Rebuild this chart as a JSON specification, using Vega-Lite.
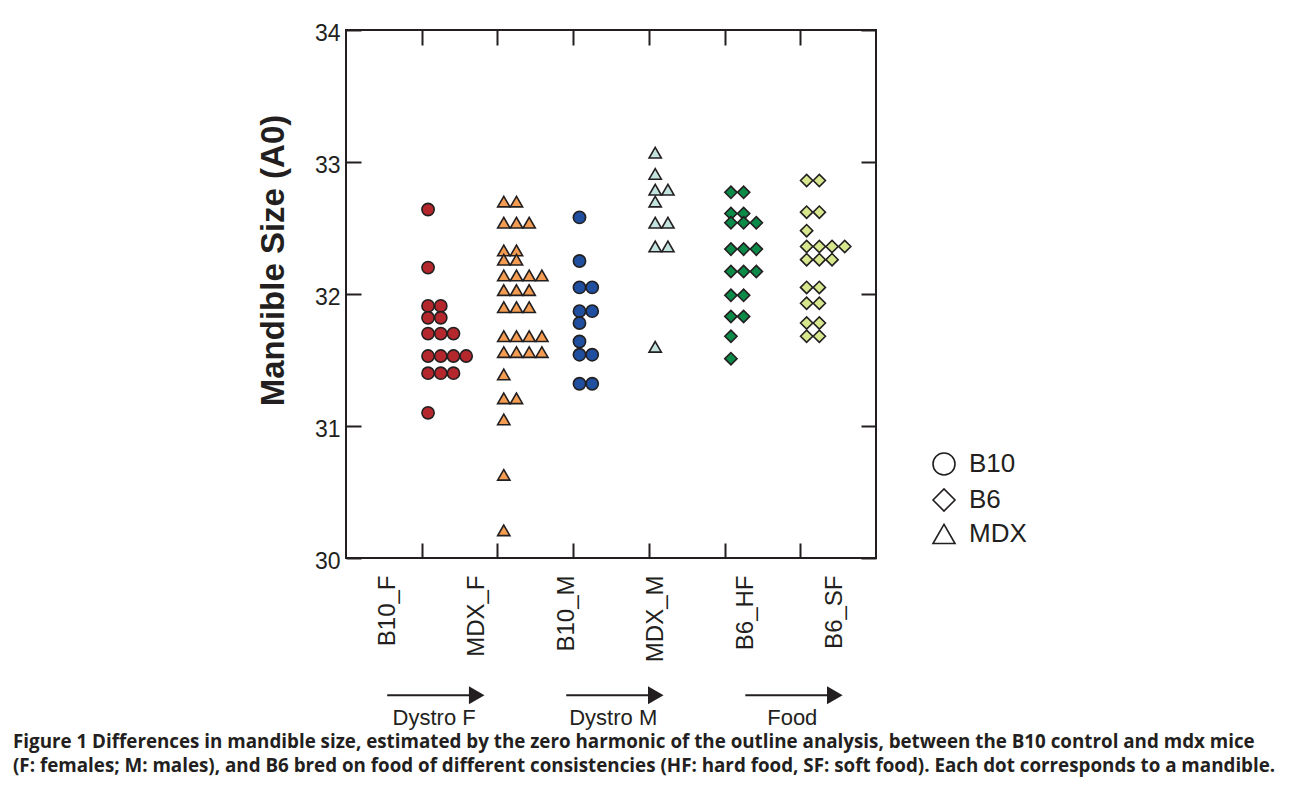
{
  "$schema": "https://vega.github.io/schema/vega-lite/v6.json",
  "autosize": "none",
  "width": 530,
  "height": 528,
  "padding": {"left": 346, "top": 30, "right": 414, "bottom": 234},
  "background": "white",
  "config": {
    "view": {"stroke": "#231f20", "strokeWidth": 2},
    "font": "Liberation Sans"
  },
  "title": {
    "text": [
      "Figure 1 Differences in mandible size, estimated by the zero harmonic of the outline analysis, between the B10 control and mdx mice",
      "(F: females; M: males), and B6 bred on food of different consistencies (HF: hard food, SF: soft food). Each dot corresponds to a mandible."
    ],
    "orient": "bottom",
    "anchor": "start",
    "frame": "group",
    "dx": -333,
    "offset": 4,
    "font": "Open Sans",
    "fontSize": 18.8,
    "fontWeight": "bold",
    "lineHeight": 24,
    "color": "#231f20"
  },
  "datasets": {
    "pts": [
      {"g":"B10_F","s":"B10","v":32.64},{"g":"B10_F","s":"B10","v":32.20},
      {"g":"B10_F","s":"B10","v":31.91},{"g":"B10_F","s":"B10","v":31.91},
      {"g":"B10_F","s":"B10","v":31.82},{"g":"B10_F","s":"B10","v":31.82},
      {"g":"B10_F","s":"B10","v":31.70},{"g":"B10_F","s":"B10","v":31.70},{"g":"B10_F","s":"B10","v":31.70},
      {"g":"B10_F","s":"B10","v":31.53},{"g":"B10_F","s":"B10","v":31.53},{"g":"B10_F","s":"B10","v":31.53},{"g":"B10_F","s":"B10","v":31.53},
      {"g":"B10_F","s":"B10","v":31.40},{"g":"B10_F","s":"B10","v":31.40},{"g":"B10_F","s":"B10","v":31.40},
      {"g":"B10_F","s":"B10","v":31.10},
      {"g":"MDX_F","s":"MDX","v":32.70},{"g":"MDX_F","s":"MDX","v":32.70},
      {"g":"MDX_F","s":"MDX","v":32.54},{"g":"MDX_F","s":"MDX","v":32.54},{"g":"MDX_F","s":"MDX","v":32.54},
      {"g":"MDX_F","s":"MDX","v":32.33},{"g":"MDX_F","s":"MDX","v":32.33},
      {"g":"MDX_F","s":"MDX","v":32.26},{"g":"MDX_F","s":"MDX","v":32.26},
      {"g":"MDX_F","s":"MDX","v":32.14},{"g":"MDX_F","s":"MDX","v":32.14},{"g":"MDX_F","s":"MDX","v":32.14},{"g":"MDX_F","s":"MDX","v":32.14},
      {"g":"MDX_F","s":"MDX","v":32.03},{"g":"MDX_F","s":"MDX","v":32.03},{"g":"MDX_F","s":"MDX","v":32.03},
      {"g":"MDX_F","s":"MDX","v":31.90},{"g":"MDX_F","s":"MDX","v":31.90},{"g":"MDX_F","s":"MDX","v":31.90},
      {"g":"MDX_F","s":"MDX","v":31.68},{"g":"MDX_F","s":"MDX","v":31.68},{"g":"MDX_F","s":"MDX","v":31.68},{"g":"MDX_F","s":"MDX","v":31.68},
      {"g":"MDX_F","s":"MDX","v":31.56},{"g":"MDX_F","s":"MDX","v":31.56},{"g":"MDX_F","s":"MDX","v":31.56},{"g":"MDX_F","s":"MDX","v":31.56},
      {"g":"MDX_F","s":"MDX","v":31.39},
      {"g":"MDX_F","s":"MDX","v":31.21},{"g":"MDX_F","s":"MDX","v":31.21},
      {"g":"MDX_F","s":"MDX","v":31.05},
      {"g":"MDX_F","s":"MDX","v":30.63},
      {"g":"MDX_F","s":"MDX","v":30.21},
      {"g":"B10_M","s":"B10","v":32.58},
      {"g":"B10_M","s":"B10","v":32.25},
      {"g":"B10_M","s":"B10","v":32.05},{"g":"B10_M","s":"B10","v":32.05},
      {"g":"B10_M","s":"B10","v":31.87},{"g":"B10_M","s":"B10","v":31.87},
      {"g":"B10_M","s":"B10","v":31.78},
      {"g":"B10_M","s":"B10","v":31.64},
      {"g":"B10_M","s":"B10","v":31.54},{"g":"B10_M","s":"B10","v":31.54},
      {"g":"B10_M","s":"B10","v":31.32},{"g":"B10_M","s":"B10","v":31.32},
      {"g":"MDX_M","s":"MDX","v":33.07},
      {"g":"MDX_M","s":"MDX","v":32.91},
      {"g":"MDX_M","s":"MDX","v":32.79},{"g":"MDX_M","s":"MDX","v":32.79},
      {"g":"MDX_M","s":"MDX","v":32.70},
      {"g":"MDX_M","s":"MDX","v":32.54},{"g":"MDX_M","s":"MDX","v":32.54},
      {"g":"MDX_M","s":"MDX","v":32.36},{"g":"MDX_M","s":"MDX","v":32.36},
      {"g":"MDX_M","s":"MDX","v":31.60},
      {"g":"B6_HF","s":"B6","v":32.77},{"g":"B6_HF","s":"B6","v":32.77},
      {"g":"B6_HF","s":"B6","v":32.61},{"g":"B6_HF","s":"B6","v":32.61},
      {"g":"B6_HF","s":"B6","v":32.54},{"g":"B6_HF","s":"B6","v":32.54},{"g":"B6_HF","s":"B6","v":32.54},
      {"g":"B6_HF","s":"B6","v":32.34},{"g":"B6_HF","s":"B6","v":32.34},{"g":"B6_HF","s":"B6","v":32.34},
      {"g":"B6_HF","s":"B6","v":32.17},{"g":"B6_HF","s":"B6","v":32.17},{"g":"B6_HF","s":"B6","v":32.17},
      {"g":"B6_HF","s":"B6","v":31.99},{"g":"B6_HF","s":"B6","v":31.99},
      {"g":"B6_HF","s":"B6","v":31.83},{"g":"B6_HF","s":"B6","v":31.83},
      {"g":"B6_HF","s":"B6","v":31.68},
      {"g":"B6_HF","s":"B6","v":31.51},
      {"g":"B6_SF","s":"B6","v":32.86},{"g":"B6_SF","s":"B6","v":32.86},
      {"g":"B6_SF","s":"B6","v":32.62},{"g":"B6_SF","s":"B6","v":32.62},
      {"g":"B6_SF","s":"B6","v":32.48},
      {"g":"B6_SF","s":"B6","v":32.36},{"g":"B6_SF","s":"B6","v":32.36},{"g":"B6_SF","s":"B6","v":32.36},{"g":"B6_SF","s":"B6","v":32.36},
      {"g":"B6_SF","s":"B6","v":32.26},{"g":"B6_SF","s":"B6","v":32.26},{"g":"B6_SF","s":"B6","v":32.26},
      {"g":"B6_SF","s":"B6","v":32.05},{"g":"B6_SF","s":"B6","v":32.05},
      {"g":"B6_SF","s":"B6","v":31.93},{"g":"B6_SF","s":"B6","v":31.93},
      {"g":"B6_SF","s":"B6","v":31.78},{"g":"B6_SF","s":"B6","v":31.78},
      {"g":"B6_SF","s":"B6","v":31.68},{"g":"B6_SF","s":"B6","v":31.68}
    ],
    "arrows": [
      {"name": "Dystro F", "from": "B10_F", "to": "MDX_F"},
      {"name": "Dystro M", "from": "B10_M", "to": "MDX_M"},
      {"name": "Food", "from": "B6_HF", "to": "B6_SF"}
    ]
  },
  "resolve": {"scale": {"x": "independent"}, "axis": {"x": "independent"}},
  "layer": [
    {
      "data": {"name": "pts"},
      "transform": [
        {"window": [{"op": "row_number", "as": "col"}], "groupby": ["g", "v"]}
      ],
      "mark": {"type": "point", "filled": true, "stroke": "#231f20", "strokeWidth": 1.6, "opacity": 1, "size": 150},
      "encoding": {
        "x": {
          "field": "g", "type": "nominal",
          "scale": {"type": "point", "padding": 1, "domain": ["B10_F","MDX_F","B10_M","MDX_M","B6_HF","B6_SF"]},
          "axis": {"orient": "bottom", "labels": false, "ticks": false, "domain": false, "title": null,
                   "grid": true, "gridDash": [15, 498], "gridColor": "#231f20", "gridWidth": 2, "gridOpacity": 1}
        },
        "xOffset": {
          "field": "col", "type": "ordinal",
          "scale": {"type": "band", "domain": [1, 2, 3, 4], "range": [0, 50.8], "paddingInner": 0, "paddingOuter": 0}
        },
        "y": {
          "field": "v", "type": "quantitative",
          "scale": {"domain": [30, 34], "nice": false, "zero": false},
          "axis": {"orient": "left", "values": [30, 31, 32, 33, 34], "format": "d",
                   "ticks": false, "domain": false, "labelPadding": 6, "labelFontSize": 23, "labelOffset": 3,
                   "labelColor": "#231f20", "labelFont": "Liberation Sans",
                   "grid": true, "gridDash": [15, 500], "gridColor": "#231f20", "gridWidth": 2, "gridOpacity": 1,
                   "title": "Mandible Size (A0)", "titleFontSize": 33, "titleFontWeight": "bold",
                   "titleFont": "Liberation Sans", "titleColor": "#231f20", "titlePadding": 24, "titleY": 230}
        },
        "color": {
          "field": "g", "type": "nominal", "legend": null,
          "scale": {"domain": ["B10_F","MDX_F","B10_M","MDX_M","B6_HF","B6_SF"],
                    "range": ["#b3272d","#f39c52","#1f4f9e","#c3e3de","#0b8a48","#d6e78d"]}
        },
        "shape": {
          "field": "s", "type": "nominal",
          "scale": {"domain": ["B10", "B6", "MDX"], "range": ["circle", "diamond", "triangle-up"]},
          "legend": {"orient": "none", "legendX": 585, "legendY": 421, "title": null, "padding": 0,
                     "labelFontSize": 26, "labelFont": "Liberation Sans", "labelColor": "#231f20",
                     "symbolSize": 484, "symbolStrokeWidth": 1.6, "symbolFillColor": "transparent",
                     "symbolStrokeColor": "#231f20", "labelOffset": 12, "rowPadding": 6}
        }
      }
    },
    {
      "data": {"name": "arrows"},
      "encoding": {
        "x": {
          "field": "from", "type": "nominal",
          "scale": {"type": "point", "padding": 0.46, "domain": ["B10_F","MDX_F","B10_M","MDX_M","B6_HF","B6_SF"]},
          "axis": {"orient": "bottom", "ticks": false, "domain": false, "grid": false, "title": null,
                   "labelAngle": 270, "labelFontSize": 24, "labelFont": "Liberation Sans",
                   "labelColor": "#231f20", "labelPadding": 17}
        }
      },
      "layer": [
        {
          "mark": {"type": "rule", "color": "#231f20", "strokeWidth": 2},
          "encoding": {"x2": {"field": "to"}, "y": {"datum": 28.96}}
        },
        {
          "mark": {"type": "point", "shape": "triangle-right", "filled": true, "color": "#231f20", "size": 324, "opacity": 1},
          "encoding": {"x": {"field": "to", "type": "nominal"}, "y": {"datum": 28.96}}
        },
        {
          "mark": {"type": "text", "dx": 47, "fontSize": 22, "font": "Liberation Sans", "color": "#231f20", "align": "center", "baseline": "middle"},
          "encoding": {"text": {"field": "name"}, "y": {"datum": 28.785}}
        }
      ]
    }
  ]
}
